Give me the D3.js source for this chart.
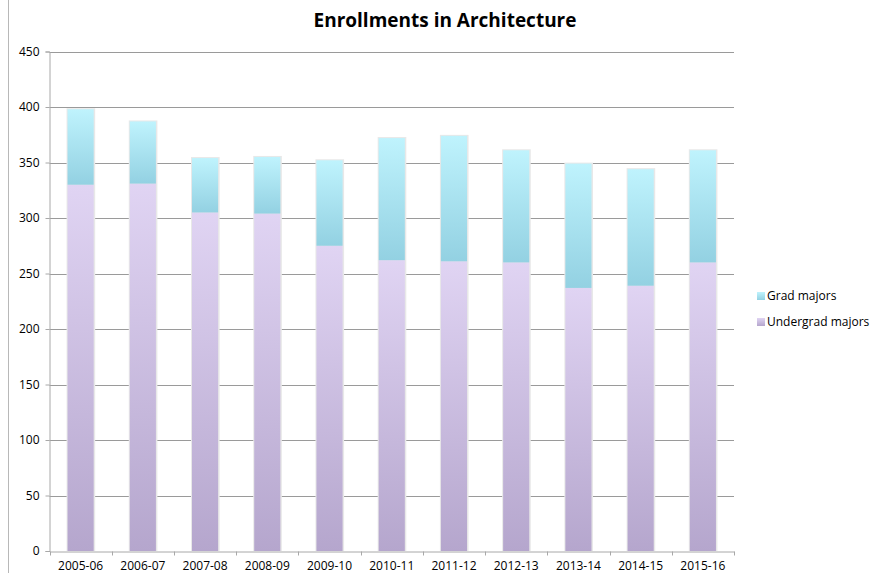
<!DOCTYPE html>
<html>
<head>
<meta charset="utf-8">
<script src="https://cdn.jsdelivr.net/npm/d3@7"></script>
<style>
  body { margin: 0; background: #fff; }
  text { font-family: "Open Sans", "Liberation Sans", sans-serif; }
</style>
</head>
<body>
<div id="chart"></div>
<script>
var years = ["2005-06", "2006-07", "2007-08", "2008-09", "2009-10", "2010-11",
             "2011-12", "2012-13", "2013-14", "2014-15", "2015-16"];
var undergrad = [330, 331, 305, 304, 275, 262, 261, 260, 237, 239, 260];
var grad = [68, 56, 49, 51, 77, 110, 113, 101, 112, 105, 101];
var yTicks = [0, 50, 100, 150, 200, 250, 300, 350, 400, 450];
var seriesNames = ["Grad majors", "Undergrad majors"];

var width = 870, height = 573;
var margin = {left: 49.5, right: 136, top: 51.5, bottom: 22};

var svg = d3.select("#chart").append("svg")
  .attr("width", width)
  .attr("height", height);

var defs = svg.append("defs");
var gGrad = defs.append("linearGradient").attr("id", "gradFill")
  .attr("x1", 0).attr("y1", 0).attr("x2", 0).attr("y2", 1);
gGrad.append("stop").attr("offset", "0%").attr("stop-color", "#bff3fd");
gGrad.append("stop").attr("offset", "100%").attr("stop-color", "#93d1e2");
var gUnder = defs.append("linearGradient").attr("id", "underFill")
  .attr("x1", 0).attr("y1", 0).attr("x2", 0).attr("y2", 1);
gUnder.append("stop").attr("offset", "0%").attr("stop-color", "#e0d4f3");
gUnder.append("stop").attr("offset", "100%").attr("stop-color", "#b5a6cd");

var x = d3.scaleBand()
  .domain(years)
  .range([margin.left, width - margin.right])
  .paddingInner(0.58)
  .paddingOuter(0.29);

var y = d3.scaleLinear()
  .domain([0, 450])
  .range([height - margin.bottom, margin.top]);

// outer frame line on the left
svg.append("line")
  .attr("x1", 8.5).attr("x2", 8.5)
  .attr("y1", 0).attr("y2", height)
  .attr("stroke", "#b8b8b8");

// title
svg.append("text")
  .attr("x", 445).attr("y", 27)
  .attr("text-anchor", "middle")
  .style("font-size", "19px")
  .style("font-weight", "bold")
  .text("Enrollments in Architecture");

// gridlines
svg.append("g").selectAll("line")
  .data(yTicks.slice(1))
  .enter().append("line")
  .attr("x1", margin.left).attr("x2", width - margin.right)
  .attr("y1", function(d) { return Math.round(y(d)) + 0.5; })
  .attr("y2", function(d) { return Math.round(y(d)) + 0.5; })
  .attr("stroke", "#9a9a9a")
  .attr("stroke-width", 1);

// y axis
var yAxis = d3.axisLeft(y).tickValues(yTicks).tickSize(4).tickPadding(6);
var ya = svg.append("g")
  .attr("transform", "translate(" + margin.left + ",0)")
  .call(yAxis);
ya.select(".domain").attr("stroke", "#a8a8a8");
ya.selectAll(".tick line").attr("stroke", "#a8a8a8");
ya.selectAll("text").style("font-size", "12px").attr("fill", "#000")
  .style("font-family", "'Open Sans', sans-serif");

// bars
var stackData = years.map(function(d, i) {
  return {year: d, under: undergrad[i], grad: grad[i]};
});
var bars = svg.append("g").selectAll("g")
  .data(stackData)
  .enter().append("g");

// soft shadow
bars.append("rect")
  .attr("x", function(d) { return x(d.year) - 1; })
  .attr("y", function(d) { return y(d.under + d.grad) - 1; })
  .attr("width", x.bandwidth() + 2.5)
  .attr("height", function(d) { return y(0) - y(d.under + d.grad) + 1; })
  .attr("fill", "#e8e8e8");

bars.append("rect")
  .attr("x", function(d) { return x(d.year); })
  .attr("y", function(d) { return y(d.under); })
  .attr("width", x.bandwidth())
  .attr("height", function(d) { return y(0) - y(d.under); })
  .attr("fill", "url(#underFill)");

bars.append("rect")
  .attr("x", function(d) { return x(d.year); })
  .attr("y", function(d) { return y(d.under + d.grad); })
  .attr("width", x.bandwidth())
  .attr("height", function(d) { return y(d.under) - y(d.under + d.grad); })
  .attr("fill", "url(#gradFill)");

// x axis
var xa = svg.append("g")
  .attr("transform", "translate(0," + (Math.round(y(0)) + 0.5) + ")")
  .call(d3.axisBottom(x).tickSize(0).tickPadding(10));
xa.select(".domain").attr("stroke", "#a8a8a8");
xa.selectAll("text").style("font-size", "12px").attr("fill", "#000")
  .style("font-family", "'Open Sans', sans-serif");

// category boundary ticks
var bounds = years.map(function(d) { return x(d) - x.step() * x.paddingInner() / 2; });
bounds.push(width - margin.right);
xa.selectAll(".bound")
  .data(bounds)
  .enter().append("line")
  .attr("class", "bound")
  .attr("x1", function(d) { return Math.round(d) + 0.5; })
  .attr("x2", function(d) { return Math.round(d) + 0.5; })
  .attr("y1", 0).attr("y2", 4)
  .attr("stroke", "#a8a8a8");

// legend
var legend = svg.append("g").selectAll("g")
  .data(seriesNames)
  .enter().append("g")
  .attr("transform", function(d, i) { return "translate(757," + (292 + i * 26) + ")"; });
legend.append("rect")
  .attr("width", 8).attr("height", 8)
  .attr("fill", function(d, i) { return i === 0 ? "url(#gradFill)" : "url(#underFill)"; });
legend.append("text")
  .attr("x", 10).attr("y", 8)
  .style("font-size", "12px")
  .text(function(d) { return d; });
</script>
</body>
</html>
